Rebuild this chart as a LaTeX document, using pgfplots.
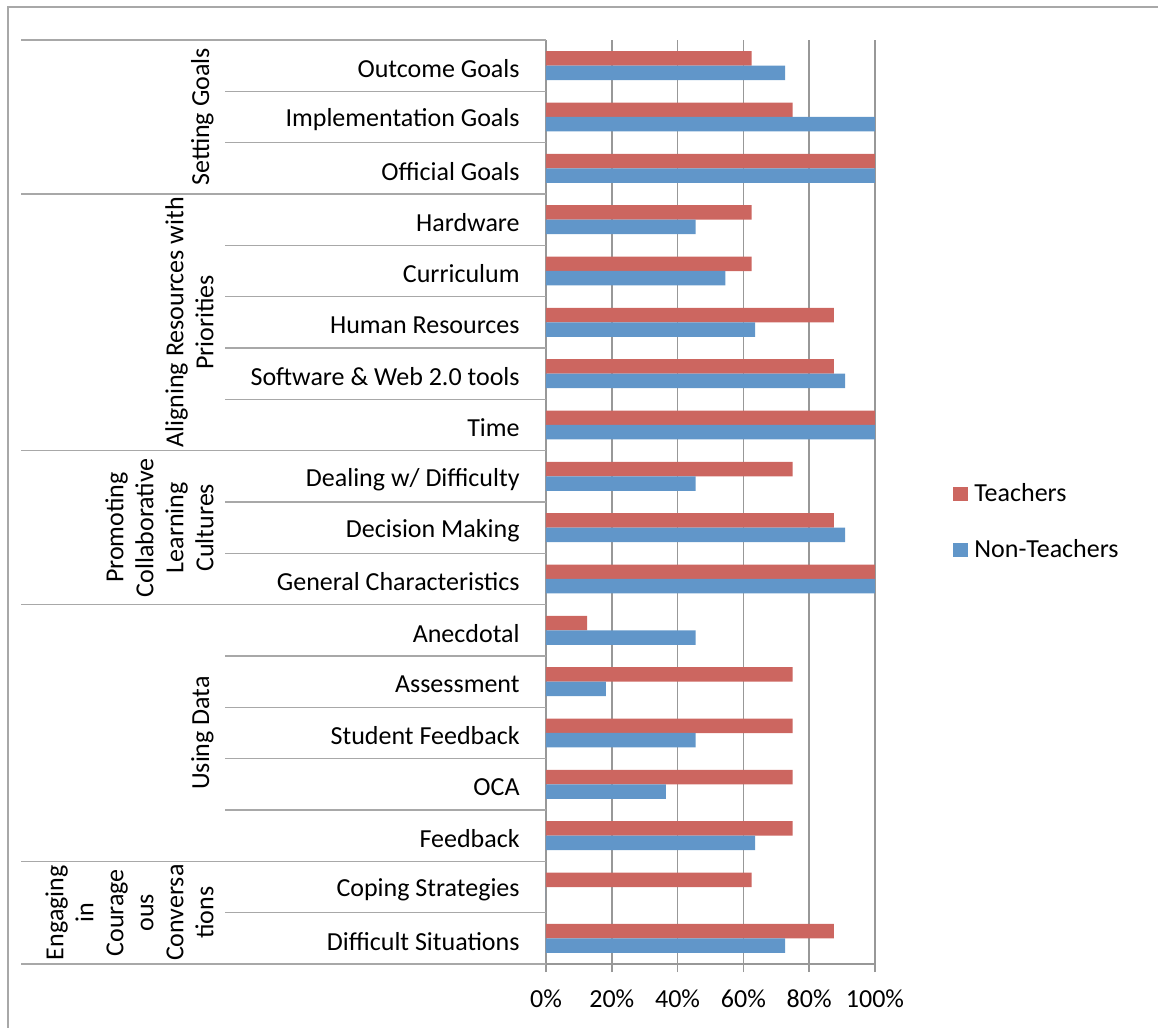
\documentclass[border=0pt]{standalone}
\usepackage{pgfplots}
\pgfplotsset{compat=1.18}
\usepackage{fontspec}
\setmainfont{Carlito}

\definecolor{teachred}{RGB}{204,102,96}
\definecolor{nonblue}{RGB}{97,150,201}
\definecolor{gridgray}{RGB}{152,152,152}
\definecolor{sepgray}{RGB}{168,168,168}

\newcommand{\lbl}{\fontsize{13}{15}\selectfont}

\begin{document}
\lbl
\begin{tikzpicture}
% page is 1158 x 1028 px, 1 px = 0.5pt, origin top left
\useasboundingbox (0,0) rectangle (579pt,-514pt);
\draw[sepgray, line width=0.8pt] (4pt,-520pt) -- (4pt,-3.5pt) -- (590pt,-3.5pt);

\begin{axis}[
  at={(273pt,-482pt)}, anchor=south west,
  scale only axis, width=164.5pt, height=462pt,
  xmin=0, xmax=100, ymin=-0.5, ymax=17.5,
  xtick={0,20,40,60,80,100},
  xticklabels={0\%,20\%,40\%,60\%,80\%,100\%},
  ytick={0,...,17},
  yticklabels={Difficult Situations, Coping Strategies, Feedback, OCA,
    Student Feedback, Assessment, Anecdotal, General Characteristics,
    Decision Making, Dealing w/ Difficulty, Time, Software \& Web 2.0 tools,
    Human Resources, Curriculum, Hardware, Official Goals,
    Implementation Goals, Outcome Goals},
  axis x line*=bottom, axis y line*=left,
  axis line style={gridgray, line width=0.8pt, -},
  xmajorgrids, major grid style={gridgray, line width=0.8pt},
  tick align=outside, major tick length=4pt,
  xtick style={gridgray, line width=0.8pt},
  ytick style={draw=none},
  tick label style={font=\lbl},
  xticklabel style={inner sep=0pt, yshift=-8.5pt},
  yticklabel style={inner sep=0pt, xshift=-9pt, yshift=-1.5pt},
  legend style={at={(1.237,0.478)}, anchor=west, draw=none, fill=none,
    inner sep=0pt, row sep=17pt, font=\lbl, nodes={inner sep=0pt},
    /tikz/every odd column/.append style={column sep=3pt}},
  legend cell align=left,
  clip=false,
]
\addplot[xbar, bar width=7.25pt, bar shift=3.6pt, fill=teachred, draw=none,
  legend image code/.code={\fill[teachred] (0pt,-3.5pt) rectangle (7.5pt,3.5pt);}]
  coordinates {
  (87.5,0) (62.5,1) (75,2) (75,3) (75,4) (75,5) (12.5,6)
  (100,7) (87.5,8) (75,9)
  (100,10) (87.5,11) (87.5,12) (62.5,13) (62.5,14)
  (100,15) (75,16) (62.5,17)
};
\addlegendentry{Teachers}
\addplot[xbar, bar width=7.25pt, bar shift=-3.6pt, fill=nonblue, draw=none,
  legend image code/.code={\fill[nonblue] (0pt,-3.5pt) rectangle (7.5pt,3.5pt);}]
  coordinates {
  (72.7,0) (0,1) (63.6,2) (36.4,3) (45.5,4) (18.2,5) (45.5,6)
  (100,7) (90.9,8) (45.5,9)
  (100,10) (90.9,11) (63.6,12) (54.5,13) (45.5,14)
  (100,15) (100,16) (72.7,17)
};
\addlegendentry{Non-Teachers}

% separators of the category table
\pgfplotsinvokeforeach{17.5,14.5,9.5,6.5,1.5,-0.5}{
  \draw[sepgray, line width=0.8pt] (axis cs:0,#1) -- ++(-262.5pt,0pt);
}
\pgfplotsinvokeforeach{16.5,15.5,13.5,12.5,11.5,10.5,8.5,7.5,5.5,4.5,3.5,2.5,0.5}{
  \draw[sepgray, line width=0.8pt] (axis cs:0,#1) -- ++(-160.5pt,0pt);
}

% group names
\begin{scope}[every node/.style={rotate=90, anchor=south, align=center,
    inner sep=0pt, font=\lbl}]
\node at (axis cs:-100.9,16) {Setting Goals};
\node at (axis cs:-100.9,12) {Aligning Resources with\\Priorities};
\node at (axis cs:-100.9,8) {Promoting\\Collaborative\\Learning\\Cultures};
\node at (axis cs:-100.9,4) {Using Data};
\node at (axis cs:-100.9,0.5) {Engaging\\in\\Courage\\ous\\Conversa\\tions};
\end{scope}
\end{axis}
\end{tikzpicture}
\end{document}
